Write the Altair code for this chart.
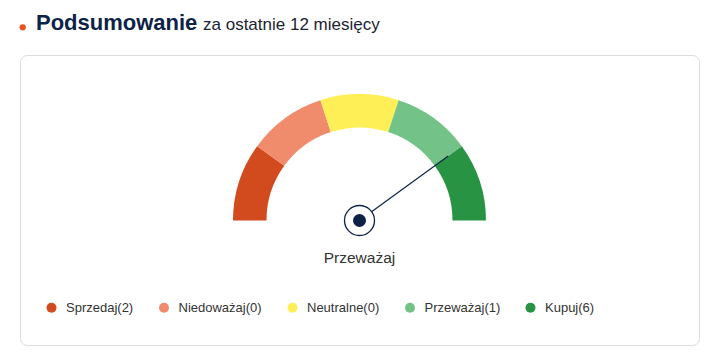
import altair as alt
import pandas as pd
import numpy as np

# ---- data ----
categories = ["Sprzedaj", "Niedoważaj", "Neutralne", "Przeważaj", "Kupuj"]
counts = [2, 0, 0, 1, 6]
colors = ["#D14B1F", "#F08B6C", "#FFEF57", "#73C287", "#289343"]
needle_value = 4.0          # position on the 0..5 gauge scale
verdict = "Przeważaj"
title_main = "Podsumowanie"
title_rest = "za ostatnie 12 miesięcy"

NAVY = "#0C2247"
FONT = "Liberation Sans"

labels = [f"{c}({n})" for c, n in zip(categories, counts)]
seg = pd.DataFrame({"label": labels, "idx": list(range(len(labels))),
                    "span": [1] * len(labels), "cx": 0.0, "cy": 0.0})

# ---- layout (plot area = card) ----
W, H = 679, 290
R = 126.5                    # pixels per gauge unit (outer radius)
cx_px, cy_px = 339.5, 165.5  # gauge centre inside the card
xscale = alt.Scale(domain=[-cx_px / R, (W - cx_px) / R], nice=False, zero=False)
yscale = alt.Scale(domain=[-(H - cy_px) / R, cy_px / R], nice=False, zero=False)

arcs = alt.Chart(seg).mark_arc(radius=126.5, radius2=93, strokeWidth=0).encode(
    x=alt.X("cx:Q", scale=xscale, axis=None),
    y=alt.Y("cy:Q", scale=yscale, axis=None),
    theta=alt.Theta("span:Q", stack=True,
                    scale=alt.Scale(domain=[0, 5], range=[-np.pi / 2, np.pi / 2])),
    color=alt.Color("label:N", scale=alt.Scale(domain=labels, range=colors),
                    legend=alt.Legend(orient="none", legendX=25, legendY=246,
                                      direction="horizontal", title=None,
                                      symbolType="circle", symbolSize=100,
                                      symbolStrokeWidth=0, symbolOpacity=1,
                                      labelFont=FONT, labelFontSize=13,
                                      labelColor="#333333", labelOffset=8,
                                      columnPadding=23.5, padding=0)),
    order=alt.Order("idx:Q"),
)

ang = np.pi * (1 - needle_value / 5)
L = 109.7 / R
needle_df = pd.DataFrame({"x": [0.0], "y": [0.0],
                          "x2": [L * np.cos(ang)], "y2": [L * np.sin(ang)]})
needle = alt.Chart(needle_df).mark_rule(color=NAVY, strokeWidth=1.2).encode(
    x=alt.X("x:Q", scale=xscale, axis=None),
    y=alt.Y("y:Q", scale=yscale, axis=None),
    x2="x2:Q", y2="y2:Q",
)

hub_df = pd.DataFrame({"x": [0.0], "y": [0.0]})
hub_outer = alt.Chart(hub_df).mark_point(shape="circle", filled=True, fill="white",
                                         stroke=NAVY, strokeWidth=1.3, size=900,
                                         opacity=1).encode(
    x=alt.X("x:Q", scale=xscale, axis=None),
    y=alt.Y("y:Q", scale=yscale, axis=None),
)
hub_inner = alt.Chart(hub_df).mark_point(shape="circle", filled=True, color=NAVY,
                                         size=170, opacity=1).encode(
    x=alt.X("x:Q", scale=xscale, axis=None),
    y=alt.Y("y:Q", scale=yscale, axis=None),
)

verdict_df = pd.DataFrame({"x": [0.0], "y": [(cy_px - 208) / R], "t": [verdict]})
verdict_text = alt.Chart(verdict_df).mark_text(font=FONT, fontSize=15.5, color="#333333",
                                               align="center", baseline="alphabetic").encode(
    x=alt.X("x:Q", scale=xscale, axis=None),
    y=alt.Y("y:Q", scale=yscale, axis=None),
    text="t:N",
)

t1 = alt.Chart(pd.DataFrame({"t": [title_main]})).mark_text(
    font=FONT, fontSize=22, fontWeight="bold", color=NAVY,
    align="left", baseline="alphabetic").encode(
    text="t:N", x=alt.value(16), y=alt.value(-25))
t2 = alt.Chart(pd.DataFrame({"t": [title_rest]})).mark_text(
    font=FONT, fontSize=17, color="#1B2233",
    align="left", baseline="alphabetic").encode(
    text="t:N", x=alt.value(183), y=alt.value(-25))
dot = alt.Chart(pd.DataFrame({"t": [0]})).mark_point(
    shape="circle", filled=True, color="#E8541E", size=40, opacity=1).encode(
    x=alt.value(2.7), y=alt.value(-27.7))

chart = alt.layer(arcs, needle, hub_outer, hub_inner, verdict_text, t1, t2, dot).properties(
    width=W, height=H,
    padding={"left": 20, "top": 55, "right": 19, "bottom": 14},
    autosize=alt.AutoSizeParams(type="none"),
    background="white",
).configure_view(stroke="#DDDDDD", strokeWidth=1, cornerRadius=7)

chart.save("out.html", embed_options={"renderer": "svg", "actions": False})
